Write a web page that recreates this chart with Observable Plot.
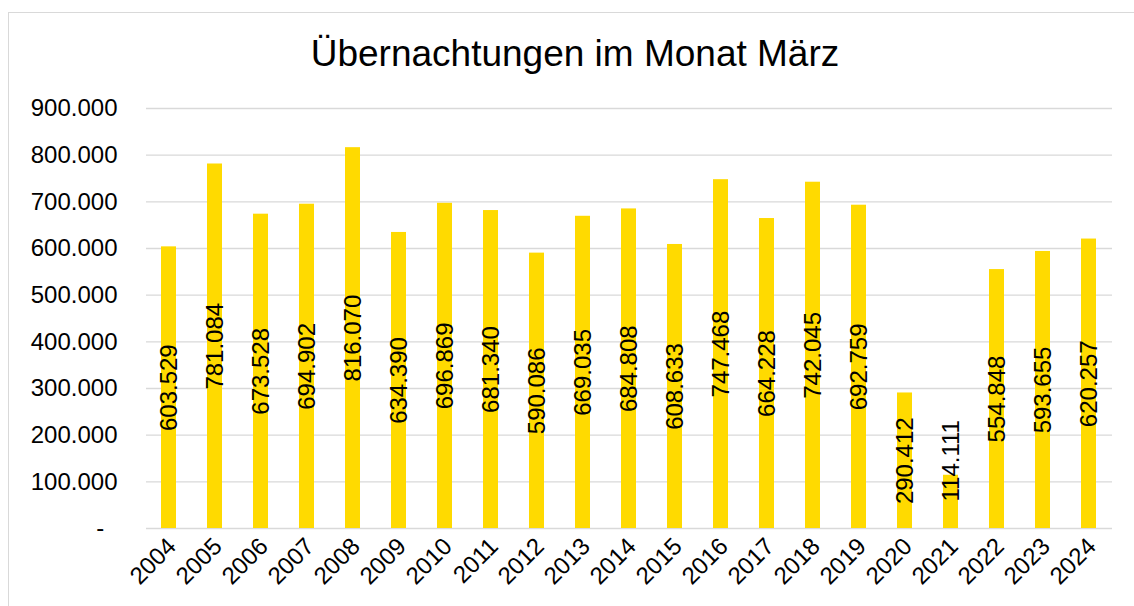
<!DOCTYPE html>
<html>
<head>
<meta charset="utf-8">
<script src="https://cdn.jsdelivr.net/npm/d3@7"></script>
<script src="https://cdn.jsdelivr.net/npm/@observablehq/plot@0.6"></script>
<style>
  html, body { margin: 0; padding: 0; background: #fff; }
  body { width: 1134px; height: 606px; overflow: hidden; position: relative; font-family: "Liberation Sans", Arial, sans-serif; }
  #frame { position: absolute; left: 8px; top: 12px; width: 1200px; height: 700px; border-left: 1.3px solid #d9d9d9; border-top: 1.3px solid #d9d9d9; }
  #title { position: absolute; left: 0; top: 0; width: 1150px; text-align: center; font-size: 37px; line-height: 37px; padding-top: 35px; color: #000; }
  #chart { position: absolute; left: 0; top: 0; }
</style>
</head>
<body>
<div id="frame"></div>
<div id="chart"></div>
<div id="title">Übernachtungen im Monat März</div>
<script>
const years = ["2004","2005","2006","2007","2008","2009","2010","2011","2012","2013","2014","2015","2016","2017","2018","2019","2020","2021","2022","2023","2024"];
const nights = [603529, 781084, 673528, 694902, 816070, 634390, 696869, 681340, 590086, 669035, 684808, 608633, 747468, 664228, 742045, 692759, 290412, 114111, 554848, 593655, 620257];
const yTicks = [0, 100000, 200000, 300000, 400000, 500000, 600000, 700000, 800000, 900000];
// Excel keeps short-bar labels from dropping below this value-level centre
const minLabelCentre = 145000;

const de = d3.formatLocale({decimal: ",", thousands: ".", grouping: [3], currency: ["", " €"]});
const fmt = de.format(",");
const data = years.map((y, i) => ({year: y, value: nights[i]}));

const chart = Plot.plot({
  width: 1134,
  height: 606,
  marginLeft: 146,
  marginRight: 22,
  marginTop: 108,
  marginBottom: 78,
  style: {fontFamily: "'Liberation Sans', Arial, sans-serif", fontSize: "24px", color: "#000", background: "transparent"},
  x: {domain: years, paddingInner: 0.67, paddingOuter: 0.335, label: null},
  y: {domain: [0, 900000], label: null},
  marks: [
    Plot.gridY(yTicks, {stroke: "#d9d9d9", strokeOpacity: 1, strokeWidth: 1.4}),
    Plot.barY(data, {x: "year", y: "value", fill: "#FFDA00"}),
    Plot.text(data, {x: "year", y: d => Math.max(d.value / 2, minLabelCentre), text: d => fmt(d.value), rotate: -90, fontSize: 24, fill: "#000"}),
    Plot.axisY({ticks: yTicks, tickSize: 0, tickPadding: 29, tickFormat: d => d === 0 ? "-\u2007" : fmt(d), fontSize: 24, fill: "#000"}),
    Plot.axisX({tickSize: 0, tickRotate: -45, tickPadding: 14, dx: 3, fontSize: 24, fill: "#000"})
  ]
});
document.getElementById("chart").appendChild(chart);
</script>
</body>
</html>
